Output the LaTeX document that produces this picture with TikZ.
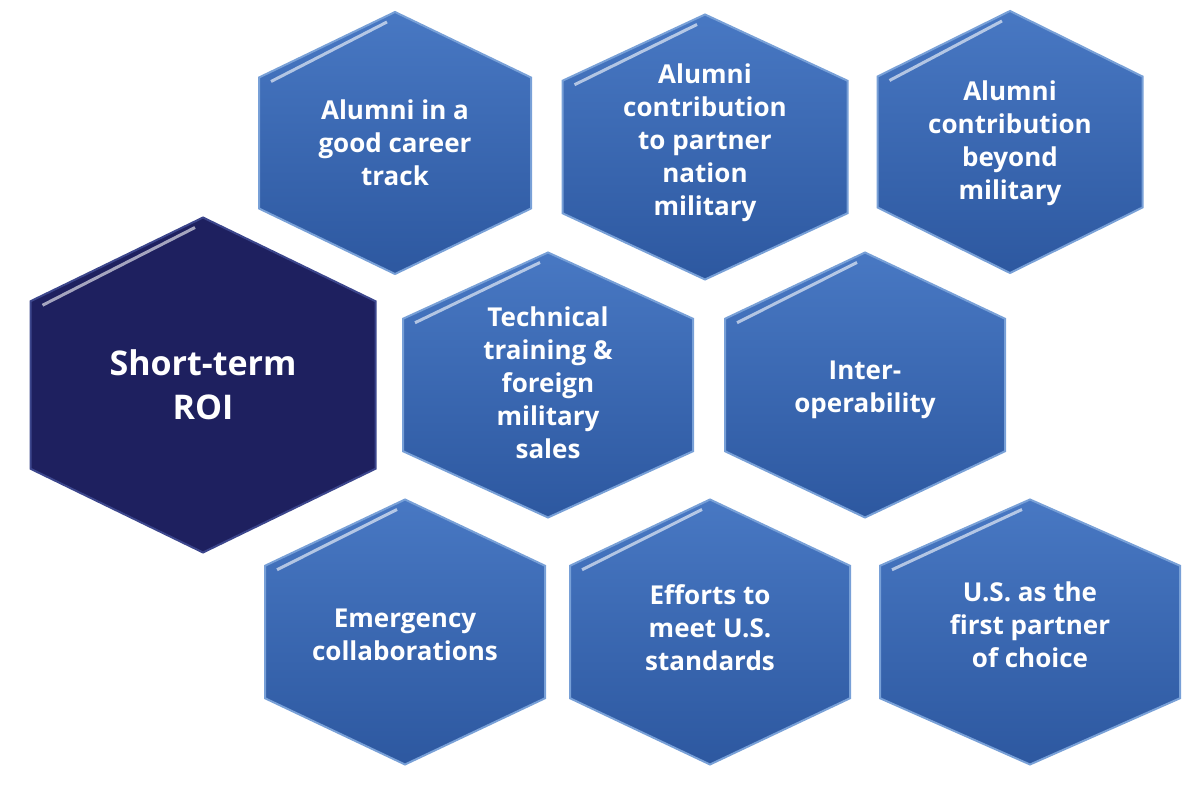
\documentclass[tikz,border=0pt]{standalone}
\usepackage{fontspec}
\setmainfont{Open Sans}
\definecolor{hexedge}{RGB}{120,160,215}
\definecolor{hextop}{RGB}{72,120,195}
\definecolor{hexbot}{RGB}{45,88,160}
\definecolor{darkedge}{RGB}{60,70,140}
\definecolor{darkfill}{RGB}{30,32,95}
\begin{document}
\begin{tikzpicture}[x=1pt,y=-1pt,
  lbl/.style={text=white,font=\bfseries\fontsize{26}{33}\selectfont,align=center},
  hexb/.style={draw=hexedge,line width=2pt,top color=hextop,bottom color=hexbot},
  hexd/.style={draw=darkedge,line width=2pt,fill=darkfill}]
\useasboundingbox (0,0) rectangle (1200,786);
\newcommand{\myhex}[5]{%
  \filldraw[#5] (#1,#2-#4/2) -- (#1+#3/2,#2-#4/4) -- (#1+#3/2,#2+#4/4) -- (#1,#2+#4/2) -- (#1-#3/2,#2+#4/4) -- (#1-#3/2,#2-#4/4) -- cycle;
  \draw[white,opacity=0.6,line width=3pt] (#1-#3/2+12,#2-#4/4+4) -- (#1-8,#2-#4/2+10);}
\myhex{395}{143}{272}{262}{hexb}
\node[lbl] (a) at (395,143) {Alumni in a\\good career\\track};
\myhex{705}{147}{285}{265}{hexb}
\node[lbl] (b) at (705,143) {Alumni\\contribution\\to partner\\nation\\military};
\myhex{1010}{142}{265}{262}{hexb}
\node[lbl] (c) at (1010,143) {Alumni\\contribution\\beyond\\military};
\myhex{203}{385}{345}{335}{hexd}
\node[lbl,font=\bfseries\fontsize{34}{44}\selectfont] (r) at (203,385) {Short-term\\ROI};
\myhex{548}{385}{290}{265}{hexb}
\node[lbl] (t) at (548,383) {Technical\\training \&\\foreign\\military\\sales};
\myhex{865}{385}{280}{265}{hexb}
\node[lbl] (i) at (865,390) {Inter-\\operability};
\myhex{405}{632}{280}{265}{hexb}
\node[lbl] (e) at (405,635) {Emergency\\collaborations};
\myhex{710}{632}{280}{265}{hexb}
\node[lbl] (f) at (710,628) {Efforts to\\meet U.S.\\standards};
\myhex{1030}{632}{300}{265}{hexb}
\node[lbl] (u) at (1030,625) {U.S. as the\\first partner\\of choice};
\end{tikzpicture}
\end{document}
